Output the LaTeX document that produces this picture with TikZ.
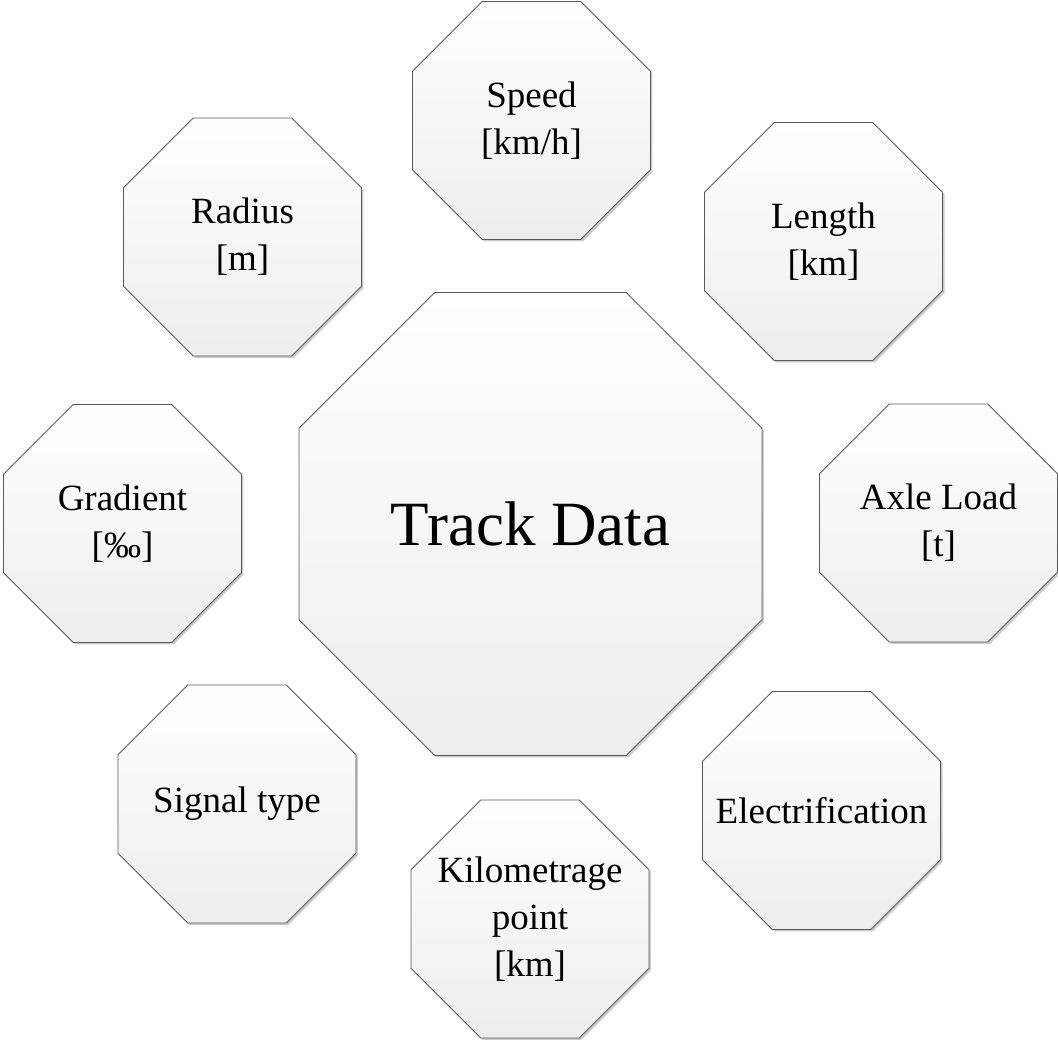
\documentclass[tikz,border=0pt]{standalone}
\usepackage{fontspec}
\setmainfont{Liberation Serif}
\usetikzlibrary{shapes.geometric,shadows}
\tikzset{
  octo/.style={regular polygon, regular polygon sides=8, inner sep=0pt,
    draw=black!65, line width=0.8pt, top color=white, bottom color=black!7,
    drop shadow={shadow xshift=2pt, shadow yshift=-2pt, fill=black!40, opacity=0.5}},
  small/.style={octo, minimum size=257.6pt},
  big/.style={octo, minimum size=501pt},
  stxt/.style={align=center, text=black, inner sep=0pt, font=\fontsize{37}{47}\selectfont},
  btxt/.style={align=center, text=black, inner sep=0pt, font=\fontsize{63}{75}\selectfont}
}
\begin{document}
\begin{tikzpicture}[x=1pt,y=-1pt]
\useasboundingbox (0,0) rectangle (1058,1040);
\node[big, label={[btxt]center:Track Data}] (track) at (530.5,524) {};
\node[small, label={[stxt]center:Speed\\{[km/h]}}] (speed) at (531.5,120.5) {};
\node[small, label={[stxt]center:Length\\{[km]}}] (length) at (823.5,241.5) {};
\node[small, label={[stxt]center:Axle Load\\{[t]}}] (axle) at (938.5,523) {};
\node[small, label={[stxt]center:Electrification}] (elec) at (821.5,810.5) {};
\node[small, label={[stxt]center:Kilometrage\\point\\{[km]}}] (kilo) at (530,919) {};
\node[small, label={[stxt]center:Signal type}] (signal) at (237,804) {};
\node[small, label={[stxt]center:Gradient\\{[‰]}}] (grad) at (122.5,523.5) {};
\node[small, label={[stxt]center:Radius\\{[m]}}] (radius) at (242.5,237) {};
\end{tikzpicture}
\end{document}
